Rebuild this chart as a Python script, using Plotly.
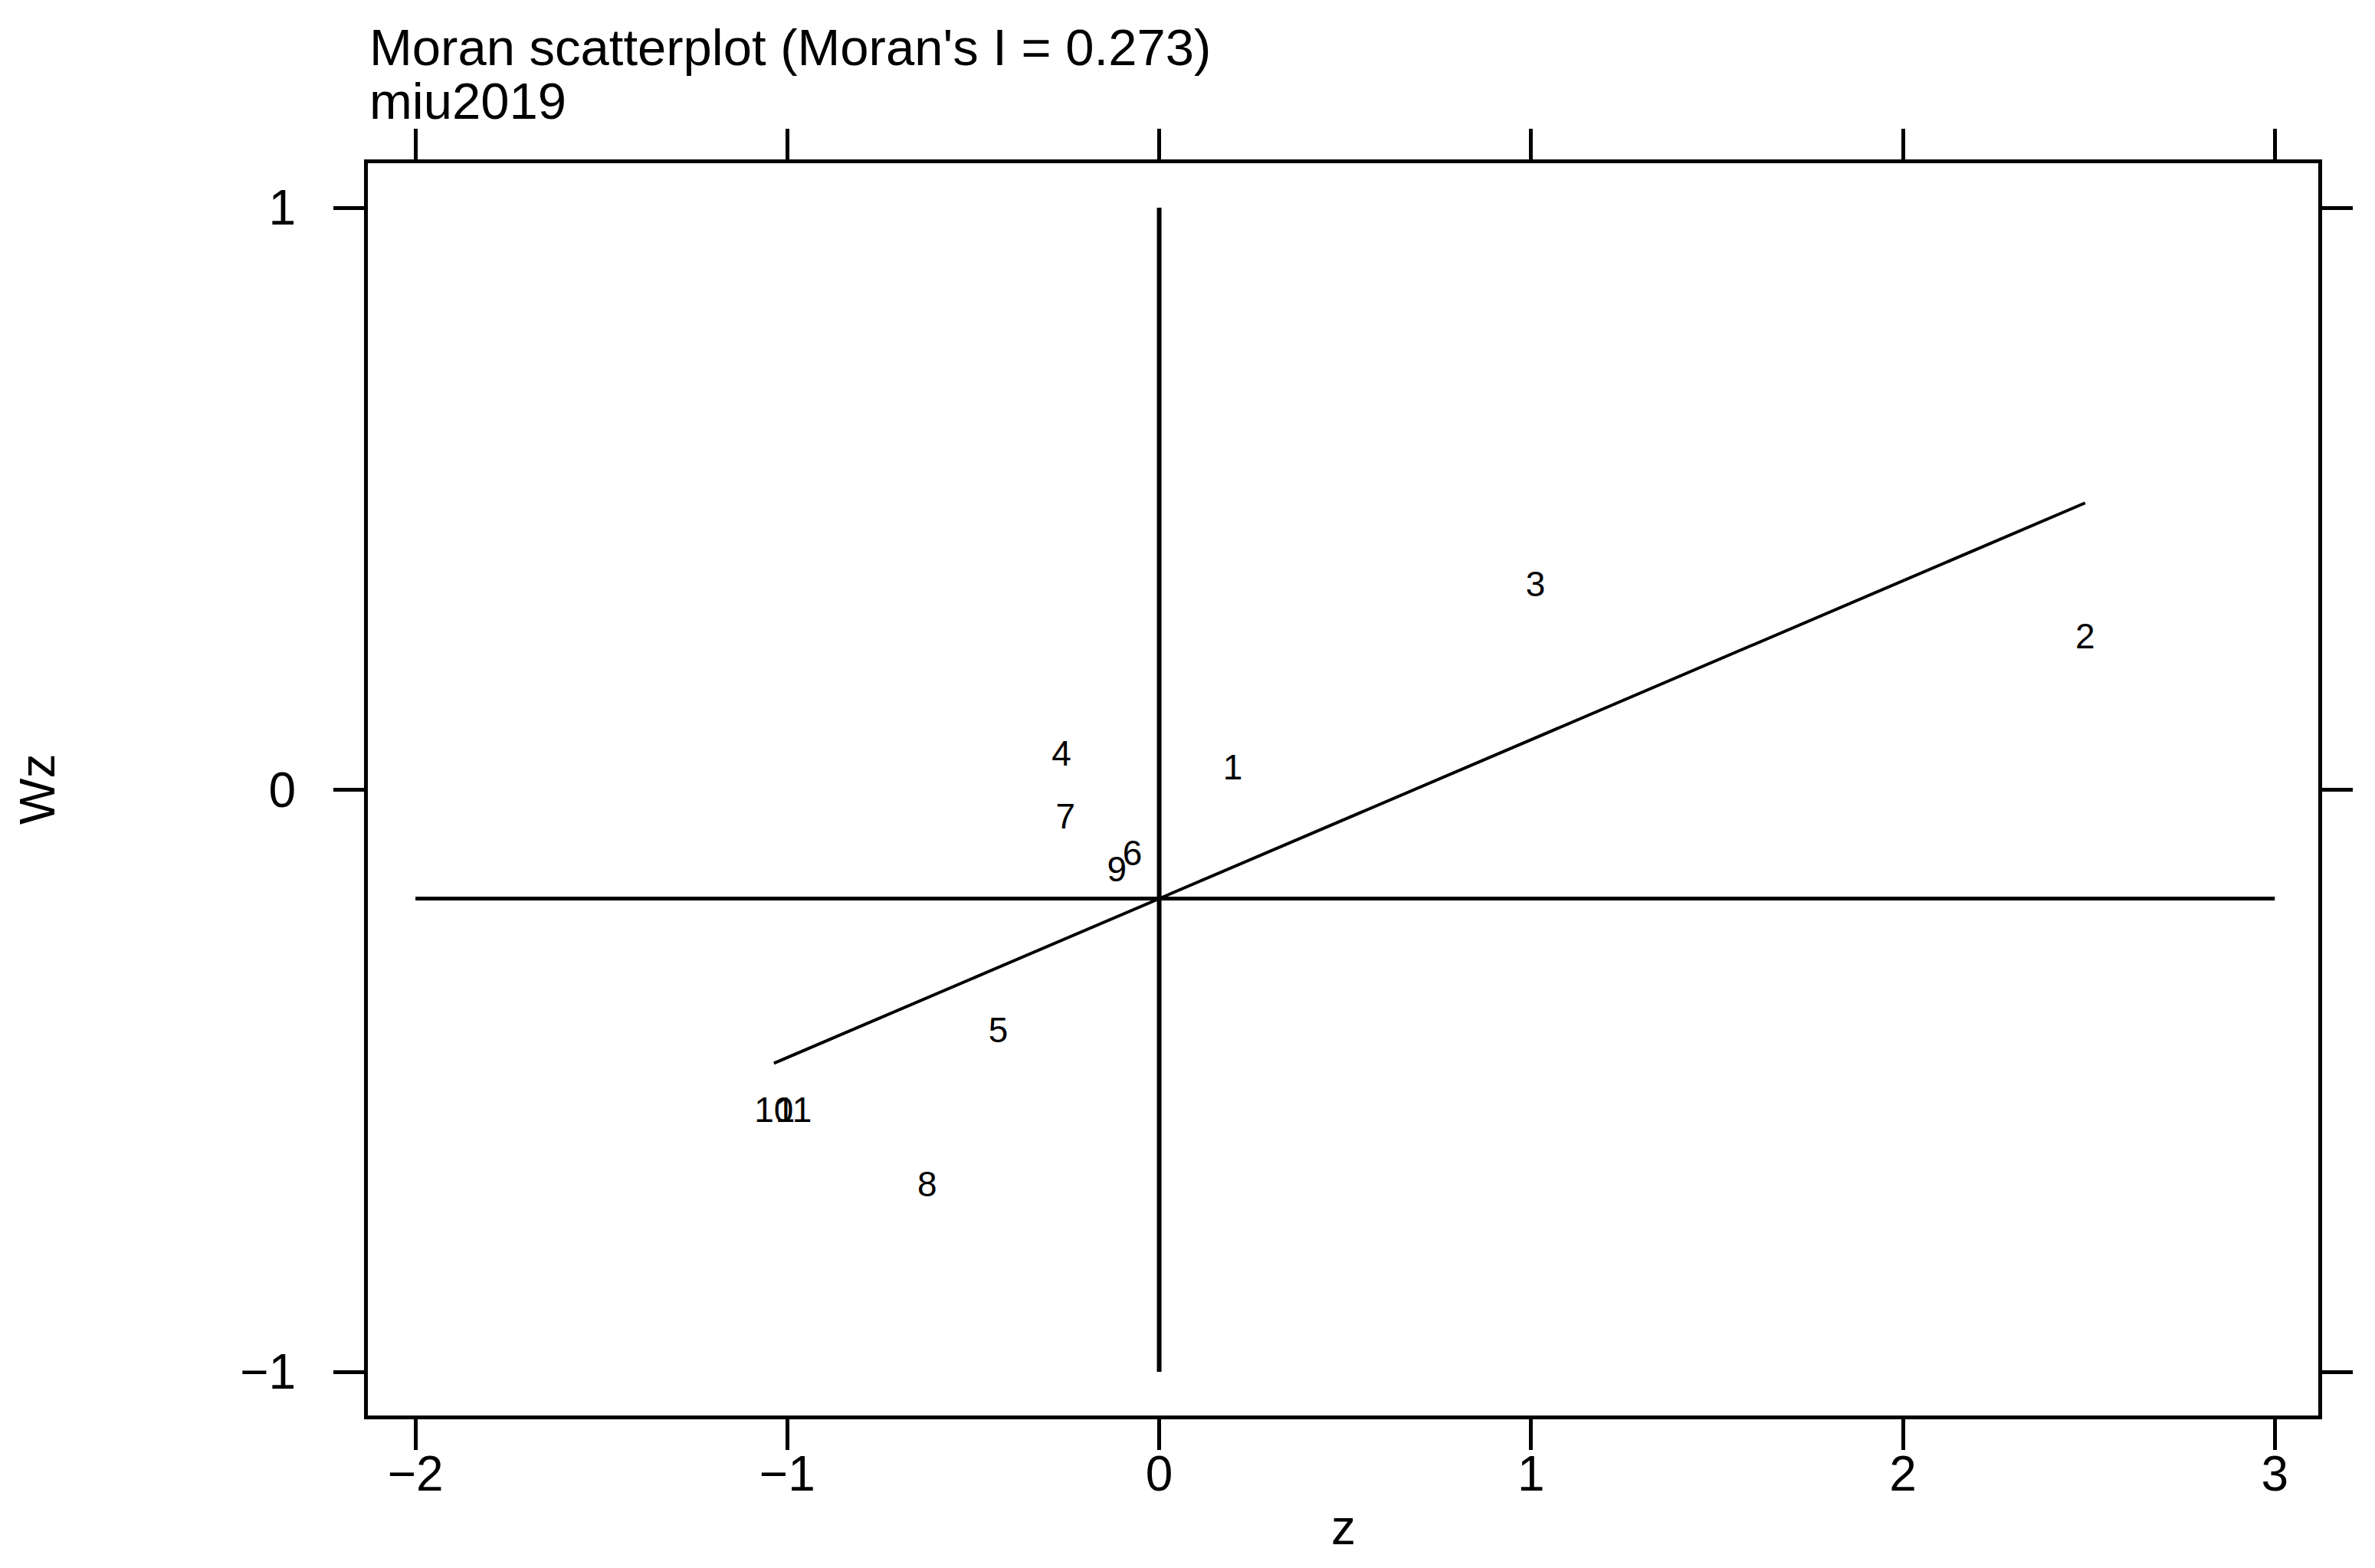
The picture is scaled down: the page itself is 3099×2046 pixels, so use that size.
import plotly.graph_objects as go

# ---- data ----
labels = ["1", "2", "3", "4", "5", "6", "7", "8", "9", "10", "11"]
z = [0.198, 2.490, 1.012, -0.263, -0.433, -0.072, -0.252, -0.624, -0.114, -1.036, -0.983]
wz = [0.033, 0.258, 0.347, 0.057, -0.418, -0.114, -0.051, -0.683, -0.142, -0.555, -0.555]
moran_i = 0.273
wz_mean = -0.187
z_mean = 0.0
x_ticks = [-2, -1, 0, 1, 2, 3]
y_ticks = [-1, 0, 1]
title_main = "Moran scatterplot (Moran's I = 0.273)"
title_sub = "miu2019"
x_title = "z"
y_title = "Wz"

FONT = "Liberation Sans, Arial, Helvetica, sans-serif"

fig = go.Figure()

# horizontal reference line at mean of Wz
fig.add_trace(go.Scatter(x=[x_ticks[0], x_ticks[-1]], y=[wz_mean, wz_mean], mode="lines",
                         line=dict(color="black", width=5), hoverinfo="skip", showlegend=False))
# vertical reference line at mean of z
fig.add_trace(go.Scatter(x=[z_mean, z_mean], y=[y_ticks[0], y_ticks[-1]], mode="lines",
                         line=dict(color="black", width=6), hoverinfo="skip", showlegend=False))
# regression line (slope = Moran's I)
xr = [min(z), max(z)]
yr = [wz_mean + moran_i * (v - z_mean) for v in xr]
fig.add_trace(go.Scatter(x=xr, y=yr, mode="lines",
                         line=dict(color="black", width=4), hoverinfo="skip", showlegend=False))
# point labels
fig.add_trace(go.Scatter(x=z, y=wz, mode="text", text=labels, textposition="middle center",
                         textfont=dict(family=FONT, size=46, color="black"), showlegend=False))

axis_common = dict(
    ticks="outside", ticklen=40, tickwidth=5, tickcolor="black",
    showline=True, linewidth=5, linecolor="black", mirror="ticks",
    showgrid=False, zeroline=False,
    tickfont=dict(family=FONT, size=64, color="black"),
)

fig.update_layout(
    width=3083, height=2030,
    margin=dict(l=472, r=66, t=205, b=191, pad=0),
    paper_bgcolor="white", plot_bgcolor="white",
    xaxis=dict(range=[-2.128, 3.117], tickvals=x_ticks, ticklabelstandoff=-24, **axis_common),
    yaxis=dict(range=[-1.075, 1.0764], tickvals=y_ticks, ticklabelstandoff=36, **axis_common),
    showlegend=False,
    annotations=[
        dict(text=title_main, x=0.0, y=1.093, xref="paper", yref="paper",
             xanchor="left", yanchor="middle", showarrow=False,
             font=dict(family=FONT, size=67, color="black")),
        dict(text=title_sub, x=0.0, y=1.0496, xref="paper", yref="paper",
             xanchor="left", yanchor="middle", showarrow=False,
             font=dict(family=FONT, size=67, color="black")),
        dict(text=x_title, x=0.5, y=-0.0894, xref="paper", yref="paper",
             xanchor="center", yanchor="middle", showarrow=False,
             font=dict(family=FONT, size=64, color="black")),
        dict(text=y_title, x=-0.1694, y=0.5, xref="paper", yref="paper",
             xanchor="center", yanchor="middle", showarrow=False, textangle=-90,
             font=dict(family=FONT, size=64, color="black")),
    ],
)

fig.write_html("out.html")
